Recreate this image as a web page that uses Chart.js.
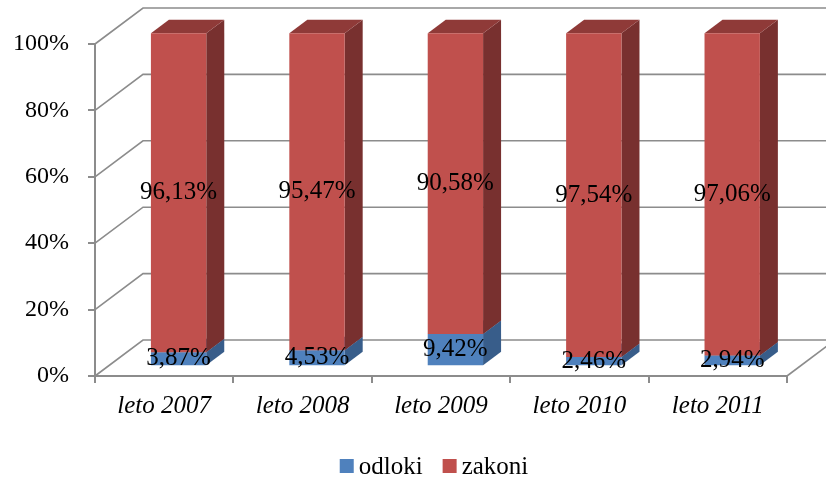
<!DOCTYPE html>
<html>
<head>
<meta charset="utf-8">
<script src="https://cdn.jsdelivr.net/npm/chart.js@4"></script>
<style>
  html, body { margin: 0; padding: 0; background: #fff; }
  #wrap { width: 826px; height: 479px; }
</style>
</head>
<body>
<div id="wrap"><canvas id="grafikon" width="826" height="479"></canvas></div>
<script>
const leta = ["leto 2007", "leto 2008", "leto 2009", "leto 2010", "leto 2011"];
const odloki = [3.87, 4.53, 9.42, 2.46, 2.94];
const zakoni = [96.13, 95.47, 90.58, 97.54, 97.06];
const yTicks = [0, 20, 40, 60, 80, 100];

const FONT = "'Liberation Serif', 'Times New Roman', serif";
const GRID = "#8c8c8c";

// 3D: zamik zadnje stene
const DX = 48;
const DY = -36;
const Z0 = 0.3;   // sprednja ploskev stolpca
const Z1 = 0.675; // zadnja ploskev stolpca
const BAR = 0.4;  // sirina stolpca glede na kategorijo

const barve = [
  { front: "#4F81BD", side: "#385D8A", top: "#3C6494" },
  { front: "#C0504D", side: "#78302F", top: "#8F3A38" },
];

function fmt(v) {
  return v.toFixed(2).replace(".", ",") + "%";
}

const plugin3d = {
  id: "plugin3d",
  beforeDatasetsDraw(chart) {
    const { ctx, chartArea: a } = chart;
    const xs = chart.scales.x;
    const ys = chart.scales.y;
    const P = (x, v, z) => [x + z * DX, ys.getPixelForValue(v) + z * DY];

    ctx.save();
    // stena in tla
    ctx.strokeStyle = GRID;
    ctx.lineWidth = 1.6;
    ys.ticks.forEach((t) => {
      const y = ys.getPixelForValue(t.value);
      ctx.beginPath();
      ctx.moveTo(a.left, y);
      ctx.lineTo(a.left + DX, y + DY);
      ctx.lineTo(a.right + DX, y + DY);
      ctx.stroke();
    });
    ctx.beginPath();
    ctx.moveTo(a.right, a.bottom);
    ctx.lineTo(a.right + DX, a.bottom + DY);
    ctx.stroke();

    const catW = (a.right - a.left) / leta.length;
    const bw = catW * BAR;

    const poly = (pts, fill) => {
      ctx.beginPath();
      ctx.moveTo(pts[0][0], pts[0][1]);
      pts.slice(1).forEach((p) => ctx.lineTo(p[0], p[1]));
      ctx.closePath();
      ctx.fillStyle = fill;
      ctx.fill();
    };

    const labels = [];
    leta.forEach((_, i) => {
      const c = xs.getPixelForValue(i);
      const x0 = c - bw / 2;
      const x1 = c + bw / 2;
      let base = 0;
      chart.data.datasets.forEach((ds, di) => {
        const v = ds.data[i];
        const v0 = base;
        const v1 = base + v;
        const col = barve[di];
        // stranska ploskev
        poly([P(x1, v0, Z0), P(x1, v0, Z1), P(x1, v1, Z1), P(x1, v1, Z0)], col.side);
        // zgornja ploskev
        poly([P(x0, v1, Z0), P(x1, v1, Z0), P(x1, v1, Z1), P(x0, v1, Z1)], col.top);
        // sprednja ploskev
        poly([P(x0, v0, Z0), P(x1, v0, Z0), P(x1, v1, Z0), P(x0, v1, Z0)], col.front);
        const lp = P(c, (v0 + v1) / 2, Z0);
        labels.push([fmt(v), lp[0], lp[1]]);
        base = v1;
      });
    });

    ctx.fillStyle = "#000";
    ctx.font = "25px " + FONT;
    ctx.textAlign = "center";
    ctx.textBaseline = "middle";
    labels.forEach(([t, x, y]) => ctx.fillText(t, x, y));
    ctx.restore();
    return false;
  },
  afterDraw(chart) {
    const { ctx, chartArea: a } = chart;
    ctx.save();
    ctx.font = "25px " + FONT;
    ctx.textBaseline = "middle";
    ctx.textAlign = "left";
    const box = 14, gap = 5, space = 20;
    const items = chart.data.datasets.map((ds) => ({
      text: ds.label,
      color: ds.backgroundColor,
      w: box + gap + ctx.measureText(ds.label).width,
    }));
    const total = items.reduce((s, it) => s + it.w, 0) + space * (items.length - 1);
    let x = (a.left + a.right) / 2 - 7 - total / 2;
    const y = 466;
    items.forEach((it) => {
      ctx.fillStyle = it.color;
      ctx.fillRect(x, y - box / 2, box, box);
      ctx.fillStyle = "#000";
      ctx.fillText(it.text, x + box + gap, y + 1);
      x += it.w + space;
    });
    ctx.restore();
  },
};

new Chart(document.getElementById("grafikon"), {
  type: "bar",
  data: {
    labels: leta,
    datasets: [
      { label: "odloki", data: odloki, backgroundColor: barve[0].front },
      { label: "zakoni", data: zakoni, backgroundColor: barve[1].front },
    ],
  },
  options: {
    responsive: false,
    animation: false,
    events: [],
    layout: { padding: { left: 0, right: 39, top: 44, bottom: 0 } },
    plugins: { legend: { display: false }, tooltip: { enabled: false } },
    scales: {
      x: {
        stacked: true,
        offset: true,
        afterFit: (s) => { s.height = 103; },
        border: { display: true, color: GRID, width: 2 },
        grid: { offset: true, drawOnChartArea: false, drawTicks: true, tickLength: 7, color: GRID, lineWidth: 2 },
        ticks: { color: "#000", padding: 8, font: { family: FONT, size: 25, style: "italic" } },
      },
      y: {
        stacked: true,
        min: 0,
        max: 100,
        afterFit: (s) => { s.width = 95; },
        afterBuildTicks: (s) => { s.ticks = yTicks.map((v) => ({ value: v })); },
        border: { display: true, color: GRID, width: 2 },
        grid: { drawOnChartArea: false, drawTicks: true, tickLength: 7, color: GRID, lineWidth: 2 },
        ticks: {
          color: "#000",
          padding: 19,
          font: { family: FONT, size: 24 },
          callback: (v) => v + "%",
        },
      },
    },
  },
  plugins: [plugin3d],
});
</script>
</body>
</html>
